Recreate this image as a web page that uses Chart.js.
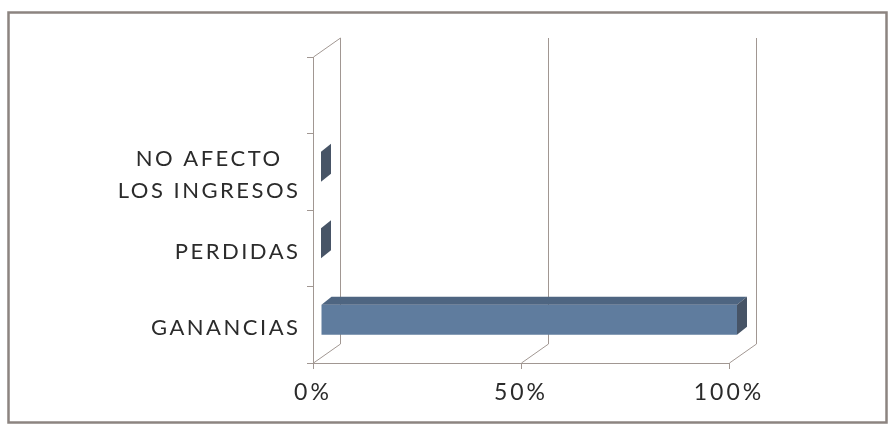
<!DOCTYPE html>
<html>
<head>
<meta charset="utf-8">
<script src="https://cdn.jsdelivr.net/npm/chart.js@4"></script>
<style>
  html, body { margin: 0; padding: 0; background: #fff; }
  canvas { display: block; }
</style>
</head>
<body>
<canvas id="grafico" width="889" height="424"></canvas>
<script>
// Datos (de abajo hacia arriba, como en Excel)
const categorias = ['GANANCIAS', 'PERDIDAS', ['NO AFECTO', 'LOS INGRESOS'], ''];
const porcentajes = [100, 0, 0, null];
const ticksX = [0, 50, 100];

// Colores
const colorLinea = '#a19792';
const colorTexto = '#2b2b2b';
const colorFrente = '#5f7c9e';
const colorTapa = '#4e6581';
const colorLado = '#475466';
const fuente = 'Lato, "Open Sans", sans-serif';

// Profundidad del efecto 3D
const muro = { dx: 27, dy: -19 };
const barraFrente = { dx: 8, dy: -5 };
const barraFondo = { dx: 10, dy: -8 };

const efecto3D = {
  id: 'efecto3D',
  beforeDraw(chart) {
    const ctx = chart.ctx;
    // marco exterior
    ctx.save();
    ctx.strokeStyle = '#8c8480';
    ctx.lineWidth = 2.5;
    ctx.strokeRect(8.5, 12.5, 878, 410);
    ctx.restore();
    ctx.letterSpacing = '3px';
  },
  beforeDatasetsDraw(chart) {
    const ctx = chart.ctx;
    const x = chart.scales.x;
    const area = chart.chartArea;
    ctx.save();
    ctx.strokeStyle = colorLinea;
    ctx.lineWidth = 1;
    ticksX.forEach(v => {
      const px = Math.round(x.getPixelForValue(v)) + 0.5;
      ctx.beginPath();
      ctx.moveTo(px, area.bottom);
      ctx.lineTo(px + muro.dx, area.bottom + muro.dy);
      ctx.lineTo(px + muro.dx, area.top + muro.dy);
      ctx.stroke();
    });
    // pared izquierda
    const x0 = Math.round(x.getPixelForValue(0)) + 0.5;
    ctx.beginPath();
    ctx.moveTo(x0, area.top);
    ctx.lineTo(x0 + muro.dx, area.top + muro.dy);
    ctx.stroke();
    ctx.restore();

    ctx.save();
    ctx.translate(barraFrente.dx, barraFrente.dy);
  },
  afterDatasetsDraw(chart) {
    const ctx = chart.ctx;
    ctx.restore();
    const meta = chart.getDatasetMeta(0);
    meta.data.forEach((bar, i) => {
      if (porcentajes[i] === null) return;
      const p = bar.getProps(['x', 'y', 'base', 'height'], true);
      const top = p.y - p.height / 2 + barraFrente.dy;
      const bottom = p.y + p.height / 2 + barraFrente.dy;
      const left = p.base + barraFrente.dx;
      const right = p.x + barraFrente.dx;
      // tapa superior
      if (right - left > 0.5) {
        ctx.fillStyle = colorTapa;
        ctx.beginPath();
        ctx.moveTo(left, top);
        ctx.lineTo(right, top);
        ctx.lineTo(right + barraFondo.dx, top + barraFondo.dy);
        ctx.lineTo(left + barraFondo.dx, top + barraFondo.dy);
        ctx.closePath();
        ctx.fill();
      }
      // cara lateral
      ctx.fillStyle = colorLado;
      ctx.beginPath();
      ctx.moveTo(right, top);
      ctx.lineTo(right + barraFondo.dx, top + barraFondo.dy);
      ctx.lineTo(right + barraFondo.dx, bottom + barraFondo.dy);
      ctx.lineTo(right, bottom);
      ctx.closePath();
      ctx.fill();
    });
  },
  afterDraw(chart) {
    // etiquetas de categorias con espaciado de letras
    const ctx = chart.ctx;
    const y = chart.scales.y;
    const espacio = 2.5;
    const derecha = 298;
    ctx.save();
    ctx.letterSpacing = espacio + 'px';
    ctx.font = '22px ' + fuente;
    ctx.fillStyle = colorTexto;
    ctx.textAlign = 'left';
    ctx.textBaseline = 'alphabetic';
    categorias.forEach((cat, i) => {
      const lineas = Array.isArray(cat) ? cat : [cat];
      if (!lineas.join('')) return;
      const centro = y.getPixelForValue(i);
      const anchos = lineas.map(t => ctx.measureText(t).width - espacio);
      const maximo = Math.max(...anchos);
      const medio = derecha - maximo / 2;
      lineas.forEach((t, j) => {
        const base = centro + 3 + 7.5 + (j - (lineas.length - 1) / 2) * 32;
        ctx.fillText(t, medio - anchos[j] / 2, base);
      });
    });
    ctx.restore();
  }
};

new Chart(document.getElementById('grafico'), {
  type: 'bar',
  data: {
    labels: categorias,
    datasets: [{
      data: porcentajes,
      backgroundColor: colorFrente,
      borderWidth: 0,
      categoryPercentage: 1,
      barPercentage: 0.39
    }]
  },
  options: {
    indexAxis: 'y',
    responsive: false,
    animation: false,
    events: [],
    layout: { padding: { top: 57, right: 160, left: 0, bottom: 0 } },
    plugins: {
      legend: { display: false },
      tooltip: { enabled: false }
    },
    scales: {
      x: {
        min: 0,
        max: 100,
        afterFit: s => { s.height = 61; },
        afterBuildTicks: s => { s.ticks = ticksX.map(v => ({ value: v })); },
        grid: { drawOnChartArea: false, tickLength: 6, color: colorLinea },
        border: { display: true, color: colorLinea },
        ticks: {
          padding: 10,
          color: colorTexto,
          font: { family: fuente, size: 23 },
          callback: v => v + '%'
        }
      },
      y: {
        reverse: true,
        afterFit: s => { s.width = 313; },
        grid: { drawOnChartArea: false, tickLength: 6, color: colorLinea, offset: true },
        border: { display: true, color: colorLinea },
        ticks: { display: false }
      }
    }
  },
  plugins: [efecto3D]
});
</script>
</body>
</html>
